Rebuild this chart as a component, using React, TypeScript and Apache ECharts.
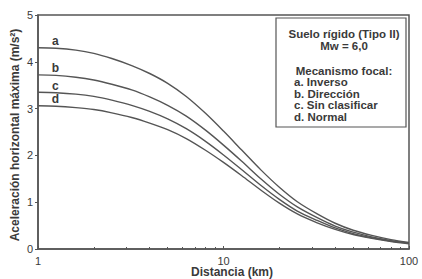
import React, { useEffect, useRef } from "react";
import * as echarts from "echarts";

const distances = [1, 1.25, 1.6, 2, 2.5, 3.2, 4, 5, 6.3, 8, 10, 12.5, 16, 20, 25, 32, 40, 50, 63, 80, 100];
const inverso = [4.30, 4.29, 4.25, 4.18, 4.07, 3.92, 3.75, 3.54, 3.26, 2.90, 2.52, 2.12, 1.68, 1.32, 1.01, 0.75, 0.55, 0.40, 0.29, 0.20, 0.14];
const direccion = [3.72, 3.71, 3.67, 3.61, 3.52, 3.40, 3.25, 3.07, 2.84, 2.54, 2.22, 1.88, 1.49, 1.17, 0.90, 0.67, 0.49, 0.36, 0.26, 0.18, 0.13];
const sinClasificar = [3.35, 3.34, 3.31, 3.26, 3.18, 3.07, 2.94, 2.78, 2.57, 2.30, 2.01, 1.70, 1.35, 1.06, 0.81, 0.61, 0.45, 0.33, 0.24, 0.17, 0.12];
const normal = [3.06, 3.05, 3.02, 2.98, 2.91, 2.81, 2.69, 2.55, 2.36, 2.11, 1.85, 1.57, 1.25, 0.98, 0.75, 0.56, 0.42, 0.31, 0.23, 0.16, 0.11];
const curveLabels = ["a", "b", "c", "d"];
const yTicks = [0, 1, 2, 3, 4, 5];
const xTicks = [1, 10, 100];
const legendTitle = ["Suelo rígido (Tipo II)", "Mw = 6,0"];
const legendHeading = "Mecanismo focal:";
const legendLines = ["a. Inverso", "b. Dirección", "c. Sin clasificar", "d. Normal"];

const LINE = "#555";
const TEXT = "#3a3a3a";
const FONT = "Liberation Sans, Arial, sans-serif";

export default function App() {
  const ref = useRef<HTMLDivElement>(null);
  useEffect(() => {
    if (!ref.current) return;
    const chart = echarts.init(ref.current, undefined, { renderer: "svg" });
    const seriesData = [inverso, direccion, sinClasificar, normal];
    const series: any[] = seriesData.map((vals, i) => ({
      type: "line",
      name: curveLabels[i],
      data: distances.map((d, j) => [d, vals[j]]),
      smooth: 0.3,
      showSymbol: false,
      symbol: "none",
      lineStyle: { color: LINE, width: 1.4 },
      markPoint: {
        symbol: "circle",
        symbolSize: 0,
        data: [
          {
            coord: [1.24, vals[1]],
            label: {
              show: true,
              formatter: curveLabels[i],
              position: "top",
              distance: 1,
              color: TEXT,
              fontSize: 12,
              fontWeight: "bold",
              fontFamily: FONT,
            },
          },
        ],
      },
    }));
    const boxText = (text: string, x: number, y: number, align: string) => ({
      type: "text",
      x,
      y,
      style: { text, fill: TEXT, font: `bold 11.5px ${FONT}`, align, verticalAlign: "middle" },
    });
    chart.setOption({
      animation: false,
      grid: { left: 38, right: 13, top: 15, bottom: 30, show: true, borderColor: LINE, borderWidth: 1.5, backgroundColor: "transparent" },
      xAxis: {
        type: "log",
        logBase: 10,
        min: 1,
        max: 100,
        axisLine: { show: true, lineStyle: { color: LINE, width: 1.5 } },
        axisTick: { show: true, inside: true, length: 3, lineStyle: { color: LINE } },
        minorTick: { show: true, splitNumber: 9, length: 2, lineStyle: { color: LINE } },
        splitLine: { show: false },
        axisLabel: {
          color: TEXT,
          fontSize: 11,
          fontFamily: FONT,
          margin: 6,
          formatter: (v: number) => (xTicks.includes(Math.round(v)) ? String(Math.round(v)) : ""),
        },
      },
      yAxis: {
        type: "value",
        min: 0,
        max: 5,
        interval: 1,
        axisLine: { show: true, lineStyle: { color: LINE, width: 1.5 } },
        axisTick: { show: true, inside: false, length: 3, lineStyle: { color: LINE } },
        splitLine: { show: false },
        axisLabel: {
          color: TEXT,
          fontSize: 11,
          fontFamily: FONT,
          margin: 5,
          formatter: (v: number) => (yTicks.includes(v) ? String(v) : ""),
        },
      },
      graphic: [
        {
          type: "text",
          x: 15,
          y: 135,
          rotation: Math.PI / 2,
          style: {
            text: "Aceleración horizontal máxima (m/s²)",
            fill: TEXT,
            font: `bold 12px ${FONT}`,
            align: "center",
            verticalAlign: "middle",
          },
        },
        {
          type: "text",
          x: 232,
          y: 272,
          style: {
            text: "Distancia (km)",
            fill: TEXT,
            font: `bold 12px ${FONT}`,
            align: "center",
            verticalAlign: "middle",
          },
        },
        {
          type: "rect",
          shape: { x: 276, y: 18, width: 130, height: 109 },
          style: { fill: "#fff", stroke: LINE, lineWidth: 1.2 },
        },
        ...legendTitle.map((t, i) => boxText(t, 344, 34 + i * 12, "center")),
        boxText(legendHeading, 344, 70.5, "center"),
        ...legendLines.map((t, i) => boxText(t, 294, 82 + i * 11.6, "left")),
      ],
      series,
    });
    return () => chart.dispose();
  }, []);
  return <div ref={ref} style={{ width: 422, height: 279, position: "absolute", left: 0, top: 0 }} />;
}
